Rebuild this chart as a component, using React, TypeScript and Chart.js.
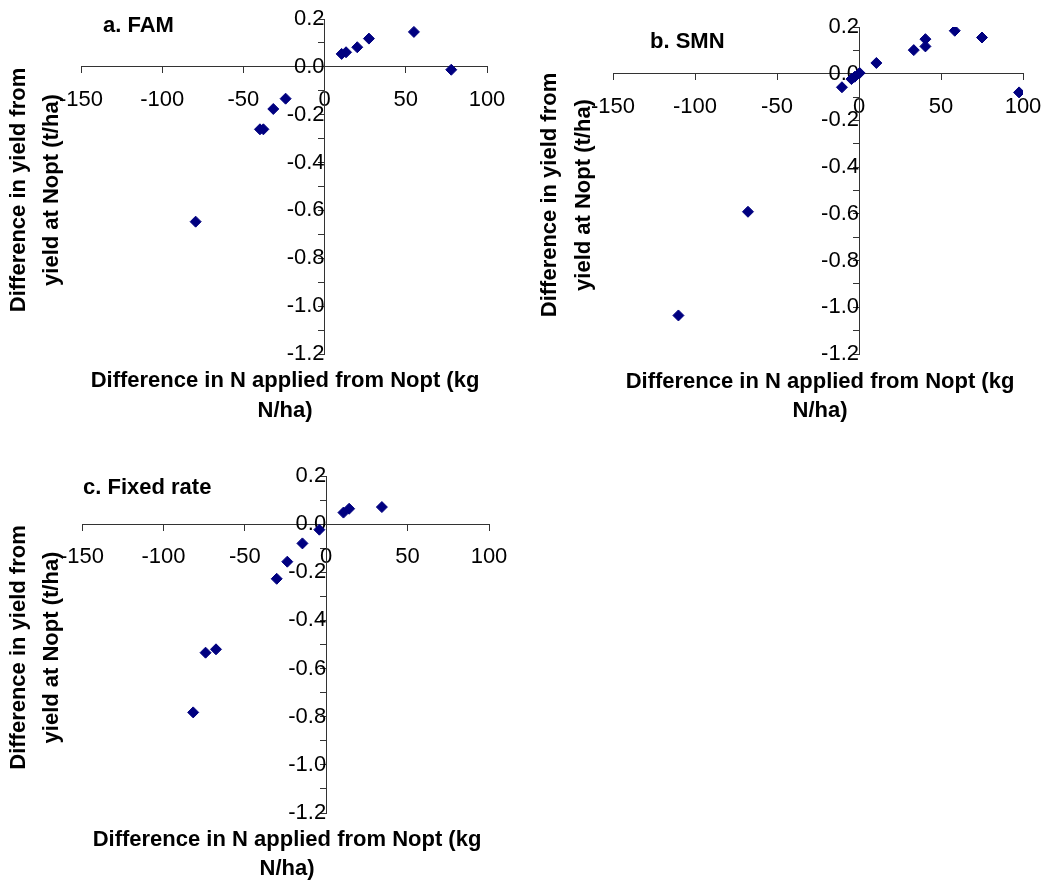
import React, { useEffect, useRef } from "react";
import { Chart, registerables } from "chart.js";

Chart.register(...registerables);

// ---- Data ----
const famN = [-79.4, -39.8, -37.7, -31.6, -24.0, 10.5, 13.2, 20.1, 27.3, 55.0, 78.0];
const famYield = [-0.647, -0.261, -0.261, -0.176, -0.133, 0.054, 0.061, 0.082, 0.118, 0.146, -0.012];

const smnN = [-110.1, -67.7, -10.4, -4.6, -2.6, 0.4, 10.6, 33.4, 40.5, 40.5, 58.4, 75.0, 97.6];
const smnYield = [-1.035, -0.591, -0.058, -0.023, -0.013, 0.003, 0.046, 0.101, 0.148, 0.117, 0.184, 0.155, -0.08];

const fixedN = [-81.7, -74.1, -67.7, -30.4, -23.9, -14.6, -4.2, 10.6, 14.1, 34.2];
const fixedYield = [-0.782, -0.534, -0.52, -0.227, -0.156, -0.08, -0.023, 0.048, 0.064, 0.071];

const panelTitles = ["a. FAM", "b. SMN", "c. Fixed rate"];
const xTitleLines = ["Difference in N applied from Nopt (kg", "N/ha)"];
const yTitleLines = ["Difference in yield from", "yield at Nopt (t/ha)"];

const xRange = [-150, 100];
const xStep = 50;
const yRange = [-1.2, 0.2];
const yStep = 0.1;

const FONT = '"Liberation Sans", Arial, Helvetica, sans-serif';
const MARKER = "#000080";
const AXIS = "#333333";

type PanelLayout = {
  left: number;
  top: number;
  width: number;
  height: number;
  pad: { left: number; right: number; top: number; bottom: number };
  titleX: number;
  titleY: number;
  xTitleX: number;
  xTitleY: [number, number];
  yTitleX: [number, number];
  yTitleCY: number;
};

const layouts: PanelLayout[] = [
  {
    left: 0, top: 0, width: 525, height: 430,
    pad: { left: 81, right: 38, top: 19, bottom: 76 },
    titleX: 103, titleY: 32,
    xTitleX: 285, xTitleY: [387, 416.5],
    yTitleX: [25, 58], yTitleCY: 190,
  },
  {
    left: 530, top: 0, width: 517, height: 430,
    pad: { left: 83, right: 24, top: 27, bottom: 76 },
    titleX: 120, titleY: 48,
    xTitleX: 290, xTitleY: [387.5, 416.5],
    yTitleX: [26, 59.5], yTitleCY: 195,
  },
  {
    left: 0, top: 440, width: 525, height: 442,
    pad: { left: 82, right: 36, top: 36, bottom: 69 },
    titleX: 83, titleY: 54,
    xTitleX: 287, xTitleY: [406, 435],
    yTitleX: [24.5, 58], yTitleCY: 207.5,
  },
];

function makeTitlePlugin(title: string, L: PanelLayout) {
  return {
    id: "panelTexts",
    afterDraw(chart: any) {
      const ctx = chart.ctx as CanvasRenderingContext2D;
      ctx.save();
      ctx.fillStyle = "#000";
      ctx.font = `bold 22px ${FONT}`;
      ctx.textBaseline = "alphabetic";
      ctx.textAlign = "left";
      ctx.fillText(title, L.titleX, L.titleY);
      ctx.textAlign = "center";
      ctx.fillText(xTitleLines[0], L.xTitleX, L.xTitleY[0]);
      ctx.fillText(xTitleLines[1], L.xTitleX, L.xTitleY[1]);
      for (let i = 0; i < 2; i++) {
        ctx.save();
        ctx.translate(L.yTitleX[i], L.yTitleCY);
        ctx.rotate(-Math.PI / 2);
        ctx.fillText(yTitleLines[i], 0, 0);
        ctx.restore();
      }
      ctx.restore();
    },
  };
}

function Panel({ xs, ys, title, layout }: { xs: number[]; ys: number[]; title: string; layout: PanelLayout }) {
  const ref = useRef<HTMLCanvasElement | null>(null);
  useEffect(() => {
    if (!ref.current) return;
    const data = xs.map((x, i) => ({ x, y: ys[i] }));
    const chart = new Chart(ref.current, {
      type: "scatter",
      data: {
        datasets: [
          {
            label: title,
            data,
            pointStyle: "rectRot",
            pointRadius: 5.5,
            pointHoverRadius: 5.5,
            backgroundColor: MARKER,
            borderColor: MARKER,
            borderWidth: 1,
          },
        ],
      },
      options: {
        animation: false,
        responsive: false,
        maintainAspectRatio: false,
        events: [],
        layout: { padding: layout.pad },
        plugins: { legend: { display: false }, tooltip: { enabled: false }, title: { display: false } },
        scales: {
          x: {
            type: "linear",
            position: { y: 0 } as any,
            min: xRange[0],
            max: xRange[1],
            grid: { drawOnChartArea: false, drawTicks: true, tickLength: 6, color: AXIS },
            border: { display: true, color: AXIS, width: 1 },
            afterFit: (s: any) => {
              s.paddingLeft = 0;
              s.paddingRight = 0;
              s.paddingTop = 0;
              s.paddingBottom = 0;
            },
            ticks: {
              stepSize: xStep,
              color: "#000",
              padding: 14,
              maxRotation: 0,
              autoSkip: false,
              font: { family: FONT, size: 22 },
              callback: (v: any) => String(Math.round(Number(v))),
            },
          },
          y: {
            type: "linear",
            position: { x: 0 } as any,
            min: yRange[0],
            max: yRange[1],
            grid: { drawOnChartArea: false, drawTicks: true, tickLength: 6, color: AXIS },
            border: { display: true, color: AXIS, width: 1 },
            afterFit: (s: any) => {
              s.paddingLeft = 0;
              s.paddingRight = 0;
              s.paddingTop = 0;
              s.paddingBottom = 0;
            },
            ticks: {
              stepSize: yStep,
              color: "#000",
              padding: 10,
              autoSkip: false,
              font: { family: FONT, size: 22 },
              callback: (v: any) => {
                const k = Math.round(Number(v) * 10);
                return k % 2 === 0 ? (k / 10).toFixed(1) : "";
              },
            },
          },
        },
      },
      plugins: [makeTitlePlugin(title, layout)],
    });
    return () => chart.destroy();
  }, [xs, ys, title, layout]);
  return (
    <canvas
      ref={ref}
      width={layout.width}
      height={layout.height}
      style={{ position: "absolute", left: layout.left, top: layout.top, width: layout.width, height: layout.height }}
    />
  );
}

export default function App() {
  return (
    <div style={{ position: "absolute", left: 0, top: 0, width: 1047, height: 882, background: "#fff" }}>
      <Panel xs={famN} ys={famYield} title={panelTitles[0]} layout={layouts[0]} />
      <Panel xs={smnN} ys={smnYield} title={panelTitles[1]} layout={layouts[1]} />
      <Panel xs={fixedN} ys={fixedYield} title={panelTitles[2]} layout={layouts[2]} />
    </div>
  );
}
